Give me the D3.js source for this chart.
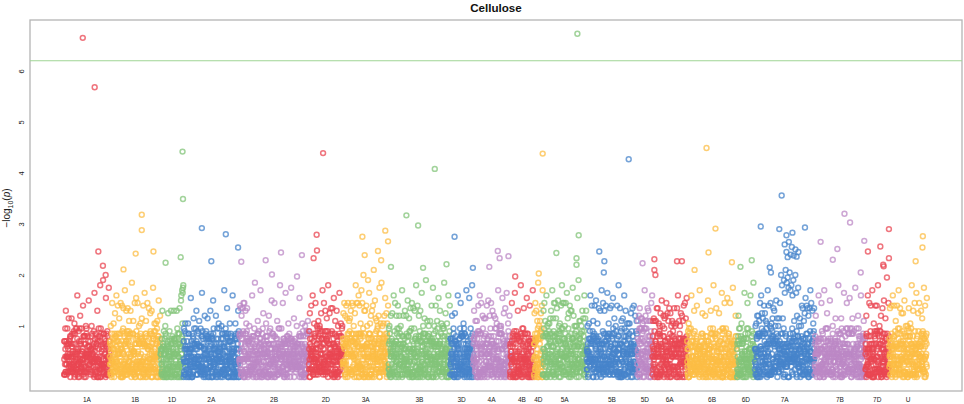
<!DOCTYPE html>
<html>
<head>
<meta charset="utf-8">
<script src="https://cdn.jsdelivr.net/npm/d3@7"></script>
<style>
  body { margin: 0; background: #fff; }
  text { font-family: "Liberation Sans", Arial, sans-serif; }
</style>
</head>
<body>
<script>
const chromNames = ["1A","1B","1D","2A","2B","2D","3A","3B","3D","4A","4B","4D",
                    "5A","5B","5D","6A","6B","6D","7A","7B","7D","U"];
// number of markers on each chromosome (x axis is marker index)
const markerCounts = [1380,1530,690,1680,2100,1020,1380,1860,690,1110,720,270,
                      1320,1530,450,1050,1500,540,1800,1530,720,1140];
const chromColors = ["#EA4753","#FCBD45","#83C479","#4784CB","#BC88C6"];

// -log10(p) of the markers, one character per marker in 0.05 steps
// "0".."9" = 0..0.45, "a".."z" = 0.5..1.75, "A".."Z" = 1.8..3.05
const markerCodes = [
  "1e15j2q5d58j79d2n8e62g43d8n2h95a28i4l9h16j39j3w5b05i20j7o9e45j23a7s1g40g28g2k8j98g28a3u8c53e21b7k6h98c14i0x6f13c82d0q6e70j38e4A0j55a58c2C1h25d59e0v1c84i11b7z5a2",
  "8e1kc70bt38f2lb05fp96e4wc29es95e9na38bt64e2si10jr56g5yd34eq12i4rf64im33h8qh83bB52h1ma19at14f6vi56gt23e6kd48gl04f4nc66es21d3xd60hm60c4tb41cr37c4pi70aq60g3zf58il74i8lf20jm09g2uc92fo0",
  "9b71f3q4d67i92f9k3g00b13d0p3a54i82a4q6f21d84b4q9f19e15b1q0j43d05h2r0d65uw9fylxzA",
  "0j21i6l1h38b93c6l1h93b05b1v5e80h44g2n7j96c74j5q7d51i85h5m7c48j12c7x3i18d01b9o9b29i33g7n3g24e06f6q4d08g02b3u4j46d95c2o7d71j07a2l7j86a94d7k2h70f39c1y1h62j31h6r5c38e67e8l8e67g69e0w1d20a05g8l2h14f26d5q0i2",
  "7hs5hr1do27fr7it6at17dq3hl7ir21e68e4k9a12c49f3w3a14g54j5B5d71a50h9m2h96i92f8y2d54c01j9p6b12b29a2l9g08g40d4o1i15j81d6u9h74h71d0t9g05b87a7m1b34j99j9A8d72j78a4t9f10f97d1x3c81g09g3l8f95a24f5z4f53e69a8n0c64c52c3k8c53d44g8v0d52g19d1l8i17b01a0k3b37i38h5m8i6",
  "5i7pd32as38b4wa61hl77g6tb47dk35j8mf34jk42i7pf46iy31b5tf62iq38i2nf37iA59d7pb95hr81i5rh80fv21h1mc68aq61d0kb92hx76g1lb95jk9",
  "5dp6ct5bo16es3cn9ht89hm3in3eq21ht1es8ck50bp7dA9dt64et4hw0cs54gl8hy3ct59jE0cq8cq05cs4dk8cC89hx0hl1co31fq8as4bG87eu6an2im35jk6eo8dz02hl3cB8fk58cl8ao9fv52ap4hl1bs4",
  "3j1kh20bo89f5pa11cw89i4tc26eo66j1sd03jo55h9kb88cy41g4od39fq63c8og57eu25g1ni76ir31j0tb02br22j6qf84gA40b6se30go32i4qg23ex46c7kg39dn13h2Ce19em06g0kh85em77b8sf51dz00c9kc51is40e5mj28cv96d4qd51hl90g3kj52jB75a3pa33bl02f6we02is4",
  "1f96e1o8d14j06b1p1e96d07c7w0d33f91j5t5h53h11g8l2j09h11g2y9b88e58b1v0b39j73c6A4h0",
  "5d7qf94hm64c7mf75is11i3wh22bt82b9oj11an82g3nh63ds90d4ug56ao44j4td12aq87d7oc25jn68j7lc07ay17h2kh34jk66h1vb29dp03c5rg71dx26e8li47go8",
  "2d15a4t6g71h21i6x0a02i06f3q2f42e31h7A8h71j06j8r7f72h87b7v6d71a90e4s6e11a34d5y4c2",
  "7dp8ft4fq49hm2jB0fk15dm9ip2js60y",
  "1bq5jt1am40gw1ck9cl21il4en0eq87hy2gn1it50gt9an1hr43bu2hk7il57ds9jA9jt41ft9ek8ht28cx7bn7jp09fs1dq9aq15fz9fo4ck56ck3ik9gv35cC0dm2fm45dk5iq4en31iw1bn9bq2",
  "3b3ka01al76i8wf78ds73i0md35hs57b7ug02el83a3re19gq74a9yd52it53h8qe55hs23g8xg59fl15h8rd53cs88h7vj15hn92d5ki77fs16g0Ag22br17i7mj10an19a9wj11bq69i9la24gl2b4l59c6pd5i9r93c3se6c6o33i3mh9",
  "5am8io1jr16jn9jn7fl05im0jy4jo45jm3ar8bq40gm8gm0it92w",
  "8gm8an4im53em1br0gr98cl4ik8gp13cu2dk6go70jn8eo6at55ap8cm3br25dp9ek8bm84il1br4fk28el0cr0bw38fm1bk5fp96eo6cm9es95et3an8bv6",
  "e42i8l0j75g65j3w4e61c84h5q4i23d78g7s3b65c71c0y9a91e56e8p6g92d46a3o8g10e54d2u6e82b33j3q0h26a24j1A1c73h24f8r0a66a63b5p8i17e88b5x0j20j62i2t2f40j17b5v6e36h89c5t0d60a11d3z5d05e88c0o6g52",
  "b38e1o6j51j41f1l6a94d30f7x7a36f75j5t1j53a92b8w1b73i19d2B1b79",
  "3bk5bl8fo80ho4gm3ht96cw4jp6hn51is5hp2hm48jl2cy9ds18dk1bt4jl29in3gr3dq24ek6fu6en08gk2bn9et46dE5cA4hn71jC7ax1hG86aB4dD0cz70fF9cy7bA62jw1hC7fm38eE7ex1io67gz9ek5bn20ak5gs1cr14fm6dp6av27hs5hr1do27fr7iy6at17dq3hl7ir2",
  "14g8o4a90b22e9w3e30b46f4t5i53h10f0y9c27j68j2p8j23f42a1u9f61b21c9k2b96a86e0n4e18b59i1A6c97h47h1n0j96a51i7x7c11d49j9t9j83h29h8v4j95b05j7n1h32i16a9z3b85j50c4o5j45f34g9w8d02g42f2m3a82f",
  "3d4og85aw52g1td11is17b0ya00dl37i3sh52is6i8A53d2ki3i1o20g1rb7h6u91e7na3f9D25d4ta4",
  "c8r55e6sh3b1w95g2sg3i8m35d7sh5j3y51j5rh8b8p77i0pd2b7u22g8kg6b3k01j2ri7g6l11j5Aa9c1q42a1ti9b41x9c65dpi97t3c38eqc64n3i32hzf02s8e19hv"
];

// further markers inside the dense band at the bottom (same code, 0..0.45)
const bandCodes = [
  "718281828459045235360287471352662497757247093699959574966967627724076630353547594571382178",
  "5251664274274663919320030599218174135966290435729003342952605956307381323286279434907632338298807531",
  "95251019011573834187930702154089149934884167509244",
  "76146066808226480016847741185374234544243710753907774499206955170276183860626133138458300075204493382656029760",
  "67371132007093287091274437470472306969772093101416928368190255151086574637721112523897844250569536967707854499699679468644549059879316368892",
  "3009879312773617821542499922957635148220826989519366803318252886939849",
  "646510582093923982948879332036250944311730123819706841614039701983767932068328237646480429",
  "531180232878250981945581530175671736133206981125099618188159304169035159888851934580727386673858942287922849989208680582",
  "57492796104841984443634632449684875602336248270419",
  "7862320900216099023530436994184914631409343173814364054625315209618369",
  "08887070167683964243781405927145635490613031072085",
  "10383750510115747704",
  "171898610687396965521267154688957035035448282818176353254095253174782027577942665999639074",
  "7696694759667042772695745353038712831754472466152539193664721299503002669531471809275340920625924330",
  "183703659549726823233323670943",
  "1357088928109101525978143837510451207039884399419844290576140866064167",
  "6100846228358114774842445432477093570173960299447781672071553316260683000385483183394402570679206562",
  "0023117376190782390740747344727796960327",
  "614101390220918638297568015155211127736424487983256963596505994458707768649769967895094544298863613921397890035128716377",
  "5922999424022841536739159896285281330866948939688202850156464928932939630233978871134490520791832103",
  "93041614869767389107328238602392408464678232081135",
  "49189052875710351855233163717690521189609518818169153096140339158888956837270854"
];

// markers in the upper half of the band (same code, 0.5..0.85)
const upperBandCodes = [
  "ebecbdfgcdhdabfaeddabgddhcecabgbdahdfgbghbdhfdhgbe",
  "dahdbhgghbhdhbbahdcehdegcbahadddfaddhfdedchgebfhchdfabddegcd",
  "abbccbhacebceddgaffdfahdhcbcge",
  "ebcbebhabbbdfddbebdcccggfbchfaffbchffhbbbfafabbfchdcagafhbehababffbbhb",
  "gafbhachefdefbgdgcabehcdfbhebdgeaddbbbdgabffcdcbcdaededadhbedcbefaddbhgacgadgchb",
  "bfcfbeahbdbgdhcfddbgfegddbdaddcbgeagcagb",
  "fcfddfcdbfafeheffhacdhhfbbgbhcbddffhfccaddhfdbdfhabbdfedhega",
  "deadebddehbgaddgdbbbhagbbaaedbfadafeeachhbadbgefecehdcdagdebcbdgbbdgcb",
  "fdafhdegdbbbfbgggdhbdabdabfgbd",
  "fgdbdhcdhcdfcddfabcgedgbcebebhhbfecbddde",
  "caecdfgdgagabegdcehcahhbedfdfe",
  "dhebffgfha",
  "gbghhgfdhcaccgedfeehabfdfddabgcahfdehebccgfhccgaac",
  "adffdeeggfcbefddbddbdbeedhabcgfbbdaadbbdddcegegdbfhadcgdabaa",
  "fbedfdhaeaadbdgedade",
  "cbbedbhchdcbagebaefahcgdgddbdbdhdbdffcfg",
  "bbhdccaeacefabbcchhaaccgbebbchfhdgchcdaebfhddbadbghfaeabddgb",
  "dgddgdefahcfhbbdgehc",
  "bagahgcbbgbebddaehfgfedcdhcdbbhbdadcgdacehceecagbcgbbcedfbafcbdbaaeefb",
  "decbfafbbbcacebeebdebhcdfdbehdbafdadgaddhbahhdabbdcdgbdbehba",
  "bhbbbbgddbbgfdbhcgddbebbhfdhbg",
  "fdcbfcbcdccbfbdeddehcadbgbegdddgcdbbfgcddchgfbfcgd"
];

// isolated markers above the dense band: [chromosome, position along chromosome (0-1), -log10(p)]
const topMarkers = [
  ["1A",0.41,6.65],["1A",0.67,5.68],["1A",0.75,2.46],["1A",0.85,2.18],["1A",0.91,2.0],
  ["1B",0.63,3.18],["1B",0.63,2.88],["1B",0.51,2.42],["1B",0.86,2.46],["1B",0.27,2.11],
  ["1D",0.96,4.42],["1D",0.98,3.49],["1D",0.88,2.35],["1D",0.22,2.24],
  ["2A",0.33,2.92],["2A",0.76,2.80],["2A",0.98,2.54],["2A",0.50,2.27],
  ["2B",0.03,2.26],["2B",0.38,2.29],["2B",0.60,2.44],["2B",0.90,2.39],["2B",0.47,2.01],["2B",0.83,1.97],
  ["2D",0.42,4.39],["2D",0.23,2.79],["2D",0.24,2.48],["2D",0.14,2.33],
  ["3A",0.93,2.87],["3A",0.43,2.75],["3A",0.99,2.66],["3A",0.77,2.47],["3A",0.48,2.39],["3A",0.84,2.29],
  ["3B",0.75,4.08],["3B",0.29,3.17],["3B",0.48,2.97],["3B",0.04,2.16],["3B",0.94,2.21],["3B",0.56,2.14],
  ["3D",0.19,2.75],["3D",0.99,2.14],
  ["4A",0.67,2.47],["4A",0.72,2.33],["4A",0.96,2.37],["4A",0.44,2.16],
  ["4B",0.22,1.97],
  ["4D",0.99,4.38],["4D",0.55,2.03],
  ["5A",0.79,6.73],["5A",0.82,2.78],["5A",0.31,2.43],["5A",0.77,2.33],["5A",0.77,2.20],
  ["5B",0.83,4.27],["5B",0.25,2.46],["5B",0.35,2.27],["5B",0.34,2.05],
  ["5D",0.35,2.23],
  ["6A",0.06,2.31],["6A",0.71,2.27],["6A",0.85,2.27],["6A",0.06,2.10],["6A",0.09,2.0],
  ["6B",0.39,4.49],["6B",0.57,2.91],["6B",0.43,2.44],["6B",0.15,2.10],["6B",0.90,2.25],
  ["6D",0.20,2.16],["6D",0.83,2.29],
  ["7A",0.45,3.56],["7A",0.10,2.95],["7A",0.41,2.90],["7A",0.63,2.83],["7A",0.84,2.93],["7A",0.53,2.78],
  ["7A",0.50,2.60],["7A",0.57,2.65],["7A",0.62,2.55],["7A",0.68,2.50],["7A",0.73,2.45],["7A",0.53,2.45],
  ["7A",0.60,2.40],["7A",0.65,2.38],["7A",0.70,2.36],["7A",0.55,2.35],["7A",0.25,2.15],["7A",0.27,2.05],
  ["7B",0.59,3.20],["7B",0.70,3.03],["7B",0.12,2.65],["7B",0.45,2.51],["7B",0.36,2.30],["7B",0.98,2.67],["7B",0.91,2.05],
  ["7D",0.99,2.90],["7D",0.63,2.56],["7D",0.11,2.46],["7D",0.99,2.33],["7D",0.75,2.20],["7D",0.77,2.17],
  ["U",0.89,2.76],["U",0.88,2.54],["U",0.70,2.27]
];

const yTicks = [1,2,3,4,5,6];
const threshold = 6.2;
const titleText = "Cellulose";

const codeAlphabet = "0123456789abcdefghijklmnopqrstuvwxyzABCDEFGHIJKLMNOPQRSTUVWXYZ";
const codeStep = 0.05;

const width = 964, height = 404;
const frame = {left: 30, right: 962, top: 20, bottom: 391};

const svg = d3.select("body").append("svg")
    .attr("width", width)
    .attr("height", height);

// cumulative offsets of the chromosomes
let offsets = [];
let total = 0;
for (let i = 0; i < markerCounts.length; i++) {
    offsets.push(total);
    total = total + markerCounts[i];
}
const chromIndex = new Map(chromNames.map((c, i) => [c, i]));

const x = d3.scaleLinear().domain([0, total]).range([64, 927]);
const y = d3.scaleLinear().domain([0, 6]).range([377, 71]);

// build the marker table from the coded strings
let markers = [];
function addCoded(codeList) {
    for (let c = 0; c < chromNames.length; c++) {
        const codes = codeList[c];
        const n = codes.length;
        for (let i = 0; i < n; i++) {
            markers.push({
                chrom: c,
                pos: offsets[c] + (i + 0.5) / n * markerCounts[c],
                value: codeAlphabet.indexOf(codes[i]) * codeStep
            });
        }
    }
}
addCoded(bandCodes);
addCoded(upperBandCodes);
addCoded(markerCodes);
topMarkers.forEach(function(d) {
    const c = chromIndex.get(d[0]);
    markers.push({chrom: c, pos: offsets[c] + d[1] * markerCounts[c], value: d[2]});
});
// draw in genome order, like the original plot
markers.sort((a, b) => a.pos - b.pos);

// frame
svg.append("rect")
    .attr("x", frame.left)
    .attr("y", frame.top)
    .attr("width", frame.right - frame.left)
    .attr("height", frame.bottom - frame.top)
    .attr("fill", "none")
    .attr("stroke", "#b4b4b4")
    .attr("stroke-width", 1.3);

// points
svg.append("g")
    .attr("class", "points")
    .selectAll("circle")
    .data(markers)
    .join("circle")
    .attr("cx", d => x(d.pos))
    .attr("cy", d => y(d.value))
    .attr("r", 2.45)
    .attr("fill", "none")
    .attr("stroke", d => chromColors[d.chrom % chromColors.length])
    .attr("stroke-width", 1.5)
    .attr("stroke-opacity", 0.75);

// significance threshold
svg.append("line")
    .attr("x1", frame.left)
    .attr("x2", frame.right)
    .attr("y1", y(threshold))
    .attr("y2", y(threshold))
    .attr("stroke", "#9fd595")
    .attr("stroke-width", 1.1);

// y axis (no tick marks, labels parallel to the axis)
const yAxis = svg.append("g")
    .attr("transform", `translate(${frame.left},0)`)
    .call(d3.axisLeft(y).tickValues(yTicks).tickSize(0).tickFormat(d3.format("d")));
yAxis.select(".domain").remove();
yAxis.selectAll("text")
    .attr("transform", "rotate(-90)")
    .attr("x", 0)
    .attr("y", -6)
    .attr("dy", 0)
    .attr("text-anchor", "middle")
    .attr("font-size", 7.5)
    .attr("font-family", "Liberation Sans, Arial, sans-serif")
    .attr("fill", "#222");

// y axis title: -log10(p)
const yTitle = svg.append("text")
    .attr("transform", "translate(10,208) rotate(-90)")
    .attr("text-anchor", "middle")
    .attr("font-size", 10)
    .attr("fill", "#222");
yTitle.append("tspan").text("\u2212log");
yTitle.append("tspan").attr("font-size", 7).attr("dy", 2.5).text("10");
yTitle.append("tspan").attr("dy", -2.5).text("(");
yTitle.append("tspan").attr("font-style", "italic").text("p");
yTitle.append("tspan").text(")");

// chromosome labels
svg.append("g")
    .selectAll("text")
    .data(chromNames)
    .join("text")
    .attr("x", (d, i) => x(offsets[i] + markerCounts[i] / 2))
    .attr("y", 401.5)
    .attr("text-anchor", "middle")
    .attr("font-size", 6.5)
    .attr("fill", "#222")
    .text(d => d);

// title
svg.append("text")
    .attr("x", (frame.left + frame.right) / 2)
    .attr("y", 11.5)
    .attr("text-anchor", "middle")
    .attr("font-size", 11.6)
    .attr("font-weight", "bold")
    .attr("fill", "#111")
    .text(titleText);
</script>
</body>
</html>
